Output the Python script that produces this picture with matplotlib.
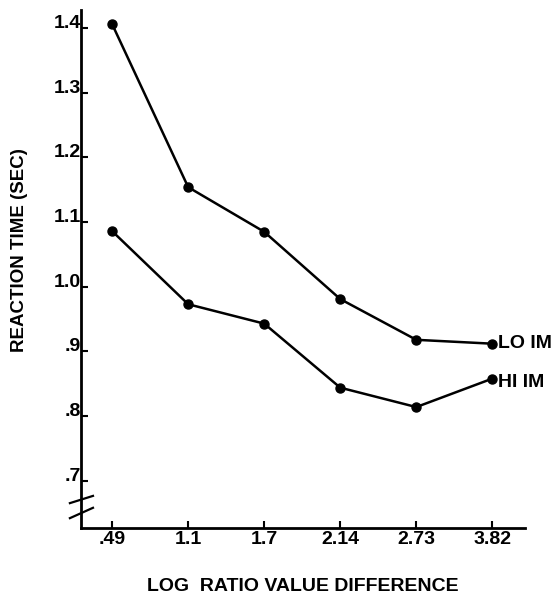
import matplotlib
matplotlib.use("Agg")
import matplotlib.pyplot as plt

plt.rcParams['font.family'] = ['Liberation Sans', 'DejaVu Sans']
plt.rcParams['font.weight'] = 'bold'

categories = [".49", "1.1", "1.7", "2.14", "2.73", "3.82"]
lo_im = [1.406, 1.154, 1.085, 0.981, 0.918, 0.912]
hi_im = [1.086, 0.973, 0.943, 0.844, 0.814, 0.858]
series_labels = ["LO IM", "HI IM"]
y_ticks = [0.7, 0.8, 0.9, 1.0, 1.1, 1.2, 1.3, 1.4]
y_tick_labels = [".7", ".8", ".9", "1.0", "1.1", "1.2", "1.3", "1.4"]
x_label = "LOG  RATIO VALUE DIFFERENCE"
y_label = "REACTION TIME (SEC)"

W, H = 560, 598
fig = plt.figure(figsize=(W / 100, H / 100), dpi=100)
left, right, bottom, top = 81, 525, 528, 10
ax = fig.add_axes([left / W, (H - bottom) / H, (right - left) / W, (bottom - top) / H])

x = list(range(len(categories)))
for vals, lab, dy in [(lo_im, series_labels[0], 0), (hi_im, series_labels[1], -3)]:
    ax.plot(x, vals, color='black', lw=1.8, marker='o', ms=6.5)
    ax.annotate(lab, xy=(x[-1], vals[-1]), xytext=(4, dy), textcoords='offset points',
                ha='left', va='center', fontsize=14, fontweight='bold', annotation_clip=False)

ax.set_xlim(-0.41, 5.43)
ax.set_ylim(0.627, 1.428)

ax.set_xticks(x)
ax.set_xticklabels(categories, fontsize=14, fontweight='bold')
ax.set_yticks(y_ticks)
ax.set_yticklabels(y_tick_labels, fontsize=14, fontweight='bold')
for lab in ax.get_yticklabels():
    lab.set_va('baseline')

ax.tick_params(axis='both', direction='in', length=5, width=1.5, color='black')
ax.tick_params(axis='y', pad=0)
ax.tick_params(axis='x', pad=2)

for s in ['top', 'right']:
    ax.spines[s].set_visible(False)
for s in ['left', 'bottom']:
    ax.spines[s].set_linewidth(2.0)

ax.set_xlabel(x_label, fontsize=14, fontweight='bold', labelpad=22)
ax.set_ylabel(y_label, fontsize=13.5, fontweight='bold')
ax.yaxis.set_label_coords(-0.12, 0.537)

# axis break marks
for y0, y1 in [(0.048, 0.062), (0.019, 0.039)]:
    ax.plot([-0.025, 0.027], [y0, y1], transform=ax.transAxes, color='black',
            lw=1.6, clip_on=False)

fig.savefig("out.png", dpi=100)
